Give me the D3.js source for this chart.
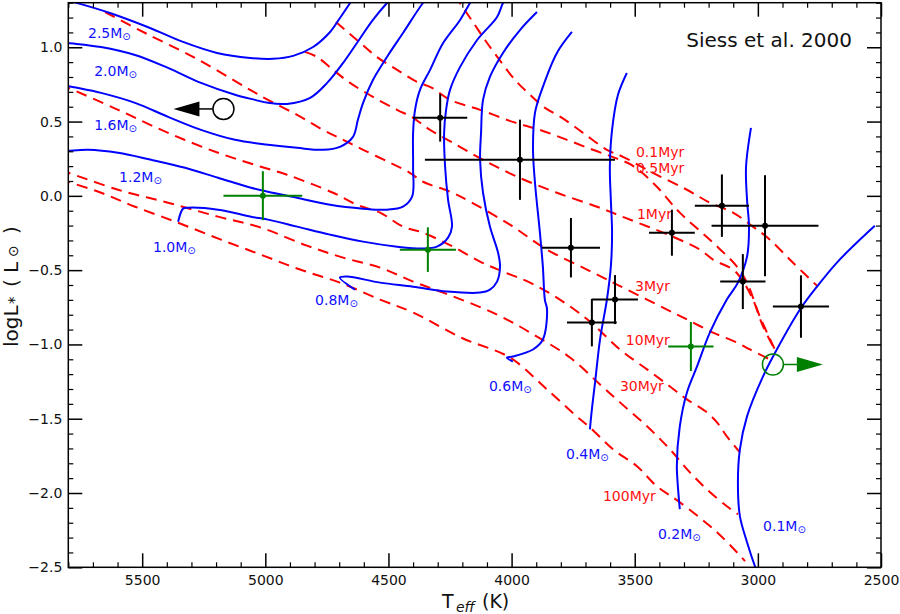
<!DOCTYPE html>
<html><head><meta charset="utf-8">
<script src="https://cdn.jsdelivr.net/npm/d3@7"></script>
<style>body{margin:0;background:#fff}svg{display:block}text{font-family:"DejaVu Sans",sans-serif}</style>
</head><body><svg id="c" width="900" height="614"></svg>
<script>
// ---- Evolutionary tracks (Siess et al. 2000): [Teff (K), logL] ----
const track2p5 = [[5835,1.33],[5764,1.298],[5631,1.231],[5468,1.130],[5334,1.036],[5196,0.962],[5062,0.928],[4969,0.922],[4887,0.942],[4806,1.002],[4737,1.103],[4697,1.197],[4656,1.298],[4636,1.352]];
const track2p0 = [[5834,1.036],[5801,1.029],[5667,1.002],[5529,0.948],[5395,0.861],[5261,0.760],[5123,0.680],[5042,0.646],[4989,0.626],[4912,0.619],[4818,0.659],[4749,0.760],[4684,0.895],[4628,1.029],[4563,1.184],[4506,1.298],[4474,1.352]];
const track1p6 = [[5834,0.754],[5801,0.740],[5667,0.693],[5529,0.626],[5395,0.532],[5261,0.444],[5123,0.377],[4989,0.344],[4871,0.323],[4766,0.310],[4697,0.330],[4644,0.397],[4624,0.512],[4603,0.626],[4563,0.780],[4506,0.935],[4441,1.096],[4360,1.298],[4331,1.352]];
const track1p2 = [[5834,0.300],[5801,0.303],[5720,0.310],[5598,0.290],[5464,0.243],[5326,0.189],[5192,0.122],[5058,0.055],[4989,0.028],[4871,-0.013],[4737,-0.060],[4603,-0.086],[4506,-0.093],[4441,-0.073],[4404,-0.006],[4400,0.196],[4400,0.424],[4392,0.579],[4372,0.713],[4331,0.848],[4278,1.029],[4209,1.184],[4169,1.298],[4149,1.352]];
const track1p0 = [[5354,-0.174],[5334,-0.086],[5314,-0.080],[5192,-0.093],[5058,-0.140],[4989,-0.160],[4871,-0.207],[4737,-0.261],[4603,-0.308],[4465,-0.342],[4360,-0.355],[4303,-0.342],[4258,-0.281],[4242,-0.207],[4258,-0.026],[4270,0.196],[4274,0.424],[4266,0.579],[4250,0.713],[4209,0.868],[4140,1.049],[4059,1.204],[4035,1.298],[4015,1.352]];
const track0p8 = [[4636,-0.631],[4697,-0.550],[4668,-0.543],[4534,-0.584],[4400,-0.611],[4262,-0.644],[4128,-0.651],[4088,-0.631],[4059,-0.577],[4047,-0.476],[4055,-0.382],[4088,-0.207],[4116,0.021],[4128,0.243],[4124,0.424],[4116,0.646],[4088,0.801],[4035,0.962],[3966,1.116],[3897,1.237]];
const track0p6 = [[3755,1.103],[3816,0.962],[3873,0.733],[3905,0.559],[3913,0.310],[3905,0.088],[3885,-0.248],[3873,-0.476],[3865,-0.698],[3856,-0.765],[3873,-0.967],[3913,-1.034],[3995,-1.081],[4019,-1.088],[3995,-1.115]];
const track0p4 = [[3532,0.827],[3568,0.680],[3592,0.444],[3601,0.196],[3597,-0.026],[3592,-0.248],[3597,-0.476],[3613,-0.698],[3641,-0.967],[3661,-1.256],[3674,-1.437],[3682,-1.572]];
const track0p2 = [[3028,0.458],[3048,0.196],[3044,-0.026],[3036,-0.207],[3044,-0.409],[3081,-0.584],[3126,-0.698],[3195,-0.920],[3247,-1.148],[3288,-1.323],[3317,-1.551],[3329,-1.820],[3317,-2.109]];
const track0p1 = [[2525,-0.201],[2573,-0.275],[2679,-0.449],[2760,-0.611],[2829,-0.765],[2923,-1.034],[2979,-1.215],[3044,-1.484],[3073,-1.706],[3081,-1.928],[3073,-2.156],[3044,-2.331],[3012,-2.492],[2999,-2.546]];

// ---- Isochrones: [Teff (K), logL] ----
const iso0p1 = [[4230,1.352],[4210,1.298],[4157,1.170],[4108,1.049],[4055,0.928],[3986,0.780],[3925,0.680],[3864,0.592],[3795,0.525],[3710,0.424],[3613,0.310],[3548,0.263],[3426,0.155],[3288,0.041],[3195,-0.046],[3101,-0.113],[3020,-0.207],[2951,-0.295],[2858,-0.449],[2756,-0.611]];
const iso0p5 = [[4713,1.170],[4628,1.049],[4547,0.935],[4465,0.848],[4384,0.767],[4323,0.727],[4250,0.646],[4128,0.579],[3995,0.498],[3885,0.444],[3775,0.377],[3670,0.310],[3580,0.256],[3507,0.202],[3418,0.075],[3317,-0.113],[3182,-0.315],[3085,-0.476],[3044,-0.584],[2992,-0.812],[2931,-1.034]];
const iso1 = [[4839,0.969],[4790,0.935],[4725,0.848],[4656,0.760],[4563,0.666],[4465,0.579],[4400,0.525],[4331,0.444],[4238,0.357],[4116,0.243],[3978,0.129],[3816,0.021],[3653,-0.073],[3540,-0.147],[3345,-0.275],[3235,-0.362],[3182,-0.429],[3101,-0.496],[3065,-0.564],[3020,-0.698],[2979,-0.879],[2927,-1.047]];
const iso3 = [[5651,1.237],[5488,1.096],[5285,0.928],[5082,0.733],[4989,0.646],[4871,0.545],[4766,0.444],[4684,0.377],[4603,0.310],[4494,0.223],[4413,0.155],[4360,0.095],[4250,0.028],[4169,-0.039],[4007,-0.194],[3856,-0.362],[3694,-0.496],[3588,-0.584],[3531,-0.631],[3385,-0.752],[3288,-0.832],[3182,-0.920],[3085,-0.987],[3032,-1.034],[2951,-1.101]];
const iso10 = [[5834,0.747],[5801,0.727],[5598,0.579],[5395,0.424],[5192,0.290],[5018,0.196],[4912,0.142],[4725,0.021],[4628,-0.060],[4534,-0.113],[4441,-0.207],[4360,-0.248],[4238,-0.342],[4128,-0.443],[4035,-0.510],[3925,-0.584],[3804,-0.698],[3682,-0.846],[3560,-1.034],[3450,-1.168],[3357,-1.283],[3288,-1.370],[3207,-1.457],[3166,-1.525],[3126,-1.619],[3073,-1.726]];
const iso30 = [[5834,0.169],[5801,0.155],[5598,0.041],[5395,-0.046],[5192,-0.140],[5018,-0.214],[4831,-0.335],[4684,-0.416],[4534,-0.483],[4400,-0.577],[4278,-0.651],[4059,-0.799],[3897,-0.947],[3763,-1.088],[3641,-1.269],[3560,-1.390],[3450,-1.551],[3357,-1.706],[3276,-1.861],[3207,-1.975],[3126,-2.089],[3081,-2.143]];
const iso100 = [[5834,0.115],[5801,0.095],[5667,0.021],[5529,-0.073],[5354,-0.181],[5180,-0.295],[5018,-0.396],[4859,-0.496],[4697,-0.584],[4534,-0.698],[4400,-0.785],[4197,-0.960],[4007,-1.088],[3856,-1.303],[3722,-1.504],[3682,-1.558],[3588,-1.706],[3491,-1.820],[3410,-1.955],[3317,-2.062],[3166,-2.264],[3052,-2.458]];

// ---- Observed stars: [Teff, logL, errTeff, errlogL] ----
const blackStars = [[4290,0.525,110,0.16],[3966,0.243,386,0.27],[3759,-0.349,118,0.20],[3580,-0.698,93,0.165],[3674,-0.853,101,0.16],[3349,-0.248,93,0.155],[3146,-0.066,110,0.21],[2971,-0.201,217,0.34],[3061,-0.577,92,0.185],[2825,-0.745,114,0.21]];
const greenStars = [[5010,0.001,160,0.165],[4340,-0.362,114,0.15],[3272,-1.014,92,0.165]];
// limits: [Teff, logL]
const blackLimit = [5170,0.585];   // hotter than
const greenLimit = [2939,-1.135];  // cooler than

// ---- labels ----
const massNames = ["2.5","2.0","1.6","1.2","1.0","0.8","0.6","0.4","0.2","0.1"];
const massLabelT = [5720,5695,5695,5594,5456,4798,4092,3779,3406,2979];
const massLabelL = [1.063,0.807,0.444,0.095,-0.375,-0.732,-1.316,-1.773,-2.311,-2.257];
const ageNames = ["0.1Myr","0.5Myr","1Myr","3Myr","10Myr","30Myr","100Myr"];
const ageLabelT = [3495,3495,3491,3499,3536,3560,3629];
const ageLabelL = [0.263,0.155,-0.154,-0.638,-1.007,-1.316,-2.055];
const xMajor = [5500,5000,4500,4000,3500,3000,2500];
const yMajor = [-2.5,-2.0,-1.5,-1.0,-0.5,0.0,0.5,1.0];

const tracks = [track2p5,track2p0,track1p6,track1p2,track1p0,track0p8,track0p6,track0p4,track0p2,track0p1];
const isochrones = [iso0p1,iso0p5,iso1,iso3,iso10,iso30,iso100];

const L=68.3,R=881,T=2.7,B=567.3;
const svg=d3.select("#c");
const x=d3.scaleLinear().domain([5800,2500]).range([L,R]);
const y=d3.scaleLinear().domain([-2.5,1.3]).range([B,T]);

svg.append("defs").append("clipPath").attr("id","clip").append("rect")
  .attr("x",L).attr("y",T).attr("width",R-L).attr("height",B-T);
const plot=svg.append("g").attr("clip-path","url(#clip)");
const line=d3.line().x(d=>x(d[0])).y(d=>y(d[1])).curve(d3.curveCatmullRom.alpha(0.5));

plot.selectAll(".iso").data(isochrones).join("path").attr("class","iso")
  .attr("d",line).attr("fill","none").attr("stroke","#ff0000").attr("stroke-width",2)
  .attr("stroke-dasharray","11,7");
plot.selectAll(".trk").data(tracks).join("path").attr("class","trk")
  .attr("d",line).attr("fill","none").attr("stroke","#0000ff").attr("stroke-width",2);

// mass labels
massNames.forEach((m,i)=>{
  const t=svg.append("text").attr("x",x(massLabelT[i])).attr("y",y(massLabelL[i]))
    .attr("fill","#1010ff").attr("font-size",14);
  t.append("tspan").text(m+"M");
  t.append("tspan").text("\u2299").attr("font-size",10).attr("dy",2);
});
// age labels
ageNames.forEach((a,i)=>{
  svg.append("text").attr("x",x(ageLabelT[i])).attr("y",y(ageLabelL[i]))
    .attr("fill","#ff1010").attr("font-size",14).text(a);
});

// error bars
function stars(data,color){
  const g=svg.append("g");
  data.forEach(d=>{
    g.append("line").attr("x1",x(d[0]+d[2])).attr("x2",x(d[0]-d[2])).attr("y1",y(d[1])).attr("y2",y(d[1]))
      .attr("stroke",color).attr("stroke-width",2);
    g.append("line").attr("x1",x(d[0])).attr("x2",x(d[0])).attr("y1",y(d[1]-d[3])).attr("y2",y(d[1]+d[3]))
      .attr("stroke",color).attr("stroke-width",2);
    g.append("circle").attr("cx",x(d[0])).attr("cy",y(d[1])).attr("r",3).attr("fill",color);
  });
}
stars(blackStars,"#000");
stars(greenStars,"#008000");

function limit(p,color,dir){
  const cx=x(p[0]), cy=y(p[1]), r=10.5;
  svg.append("circle").attr("cx",cx).attr("cy",cy).attr("r",r).attr("fill","none").attr("stroke",color).attr("stroke-width",1.5);
  svg.append("line").attr("x1",cx+dir*r).attr("x2",cx+dir*25).attr("y1",cy).attr("y2",cy).attr("stroke",color).attr("stroke-width",1.5);
  svg.append("path").attr("d",`M${cx+dir*24},${cy-7.5}L${cx+dir*50},${cy}L${cx+dir*24},${cy+7.5}Z`).attr("fill",color);
}
limit(blackLimit,"#000",-1);
limit(greenLimit,"#008000",1);

// axes
const xMinor=d3.range(5800,2499,-100).filter(v=>v%500!==0);
const yMinor=d3.range(-25,14).map(v=>v/10).filter(v=>Math.abs(v*2-Math.round(v*2))>1e-6);
function styleAxis(g,w){g.select(".domain").remove();g.selectAll("line").attr("stroke","#000").attr("stroke-width",w);
  g.attr("font-family","DejaVu Sans, sans-serif").attr("font-size",14);g.selectAll("text").attr("fill","#111");}
svg.append("g").attr("transform",`translate(0,${B})`)
  .call(d3.axisBottom(x).tickValues(xMajor).tickSize(-14).tickPadding(8).tickFormat(d3.format("d"))).call(g=>styleAxis(g,1.5));
svg.append("g").attr("transform",`translate(0,${B})`)
  .call(d3.axisBottom(x).tickValues(xMinor).tickSize(-5).tickFormat("")).call(g=>styleAxis(g,1.2));
svg.append("g").attr("transform",`translate(0,${T})`)
  .call(d3.axisTop(x).tickValues(xMajor).tickSize(-14).tickFormat("")).call(g=>styleAxis(g,1.5));
svg.append("g").attr("transform",`translate(0,${T})`)
  .call(d3.axisTop(x).tickValues(xMinor).tickSize(-5).tickFormat("")).call(g=>styleAxis(g,1.2));
svg.append("g").attr("transform",`translate(${L},0)`)
  .call(d3.axisLeft(y).tickValues(yMajor).tickSize(-14).tickPadding(6).tickFormat(d3.format(".1f"))).call(g=>styleAxis(g,1.5));
svg.append("g").attr("transform",`translate(${L},0)`)
  .call(d3.axisLeft(y).tickValues(yMinor).tickSize(-5).tickFormat("")).call(g=>styleAxis(g,1.2));
svg.append("g").attr("transform",`translate(${R},0)`)
  .call(d3.axisRight(y).tickValues(yMajor).tickSize(-14).tickFormat("")).call(g=>styleAxis(g,1.5));
svg.append("g").attr("transform",`translate(${R},0)`)
  .call(d3.axisRight(y).tickValues(yMinor).tickSize(-5).tickFormat("")).call(g=>styleAxis(g,1.2));
svg.append("rect").attr("x",L).attr("y",T).attr("width",R-L).attr("height",B-T)
  .attr("fill","none").attr("stroke","#000").attr("stroke-width",1.5);

// title
svg.append("text").attr("x",R-29).attr("y",T+44).attr("text-anchor","end").attr("font-size",20).attr("fill","#111").text("Siess et al. 2000");

// axis labels
const xl=svg.append("text").attr("y",608).attr("font-size",19).attr("fill","#111");
xl.append("tspan").attr("x",442).text("T");
xl.append("tspan").attr("x",456).attr("y",612).attr("font-size",14).attr("font-style","italic").text("eff");
xl.append("tspan").attr("x",482).attr("y",608).text("(K)");

const yl=svg.append("text").attr("transform","translate(18,347) rotate(-90)").attr("font-size",20).attr("fill","#111");
yl.append("tspan").attr("x",0).attr("y",0).text("logL");
yl.append("tspan").attr("x",43).attr("y",2).attr("font-size",15).text("*");
yl.append("tspan").attr("x",60).attr("y",0).text("(");
yl.append("tspan").attr("x",74).attr("y",0).text("L");
yl.append("tspan").attr("x",90).attr("y",0).attr("font-size",14).text("\u2299");
yl.append("tspan").attr("x",113).attr("y",0).text(")");
</script></body></html>
